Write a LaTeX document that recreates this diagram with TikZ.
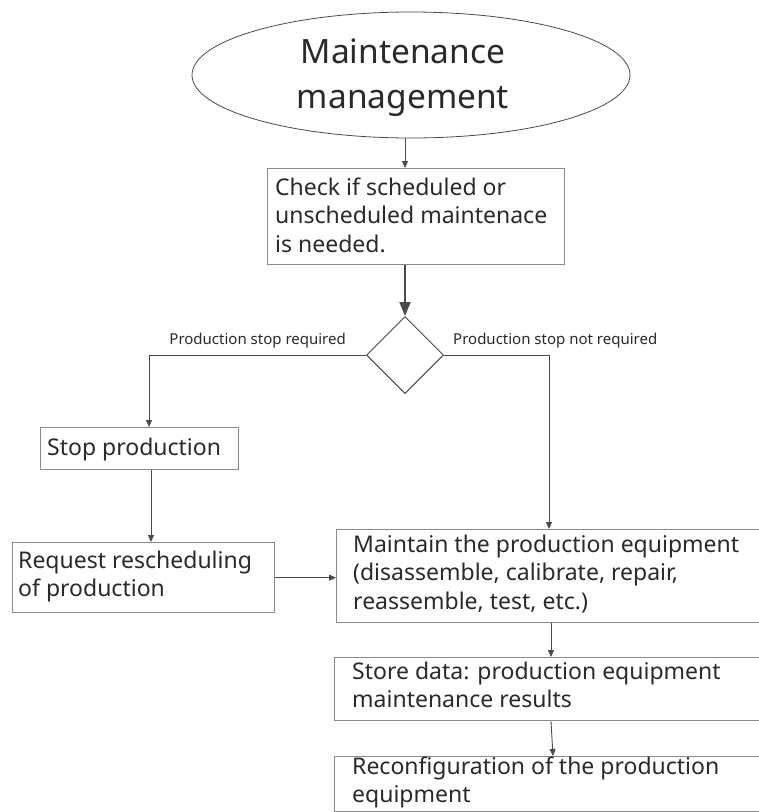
\documentclass[tikz,border=0pt]{standalone}
\usepackage{fontspec}
\setmainfont{Noto Sans}
\usetikzlibrary{shapes.geometric,arrows.meta}
\newcommand{\leftlines}[1]{\vtop{\halign{##\hfil\cr #1\crcr}}}
\newcommand{\centerlines}[1]{\vtop{\halign{\hfil##\hfil\cr #1\crcr}}}
\definecolor{boxline}{HTML}{8A8A8A}
\definecolor{conn}{HTML}{4A4A4A}
\definecolor{txtc}{HTML}{2A2A2A}
\tikzset{
  box/.style={draw=boxline, line width=1.3pt, rectangle, inner sep=0pt, anchor=north west},
  txt/.style={inner sep=0pt, anchor=base west, text=txtc, font=\fontsize{23}{28.5}\selectfont},
  lbl/.style={inner sep=0pt, anchor=base west, text=txtc, font=\fontsize{15}{18}\selectfont},
  arr/.style={draw=conn, line width=0.9pt, -{Triangle[length=7pt,width=6pt]}},
  bigarr/.style={draw=conn, line width=2pt, -{Triangle[length=14pt,width=11pt]}},
  ln/.style={draw=conn, line width=0.9pt}
}
\begin{document}
\begin{tikzpicture}[x=1pt,y=-1pt]
\useasboundingbox (0,0) rectangle (759,812);
\clip (0,0) rectangle (759,812);
\fill[white] (0,0) rectangle (759,812);

% start ellipse
\node[ellipse, draw=conn, line width=0.8pt, minimum width=438pt, minimum height=126pt, inner sep=0pt] (ell) at (411,75) {};
\node[inner sep=0pt, anchor=base, text=txtc, font=\fontsize{33.5}{45}\selectfont] (ellt) at (403,63) {\centerlines{Maintenance\cr management}};

% check box
\node[box, minimum width=297pt, minimum height=96pt] (chk) at (267,168) {};
\node[txt] (chkt) at (275,195) {\leftlines{Check if scheduled or\cr unscheduled maintenace\cr is needed.}};

% decision
\node[diamond, draw=conn, line width=1pt, minimum width=77pt, minimum height=77pt, inner sep=0pt] (dec) at (405,355) {};

% labels
\node[lbl, anchor=base east] (l1) at (346,344) {Production stop required};
\node[lbl] (l2) at (453,344) {Production stop not required};

% stop production
\node[box, minimum width=198pt, minimum height=42pt] (stp) at (40,427) {};
\node[txt] (stpt) at (47,455) {Stop production};

% request
\node[box, minimum width=262pt, minimum height=70pt] (req) at (12,542) {};
\node[txt] (reqt) at (18,568) {\leftlines{Request rescheduling\cr of production}};

% maintain
\node[box, minimum width=460pt, minimum height=93pt] (mnt) at (336,529) {};
\node[txt] (mntt) at (353,552) {\leftlines{Maintain the production equipment\cr (disassemble, calibrate, repair,\cr reassemble, test, etc.)}};

% store
\node[box, minimum width=460pt, minimum height=63pt] (sto) at (334,657) {};
\node[txt] (stot) at (352,679) {\leftlines{Store data: production equipment\cr maintenance results}};

% reconfiguration
\node[box, minimum width=460pt, minimum height=55pt] (rec) at (334,756) {};
\node[txt] (rect) at (352,774) {\leftlines{Reconfiguration of the production\cr equipment}};

% connectors
\coordinate (a1) at (405,0);
\draw[arr] (a1 |- ell.south) -- (a1 |- chk.north);
\draw[bigarr] (a1 |- chk.south) -- (dec.north);
\coordinate (lx) at (149,0);
\draw[arr] (dec.west) -| (lx |- stp.north);
\coordinate (sx) at (151,0);
\draw[arr] (sx |- stp.south) -- (sx |- req.north);
\draw[arr] (req.east) -- (req.east -| mnt.west);
\coordinate (rx) at (549,0);
\draw[arr] (dec.east) -| (rx |- mnt.north);
\coordinate (mx) at (551,0);
\draw[arr] (mx |- mnt.south) -- (mx |- sto.north);
\draw[arr] (mx |- sto.south) -- ([xshift=2pt]mx |- rec.north);
\end{tikzpicture}
\end{document}
